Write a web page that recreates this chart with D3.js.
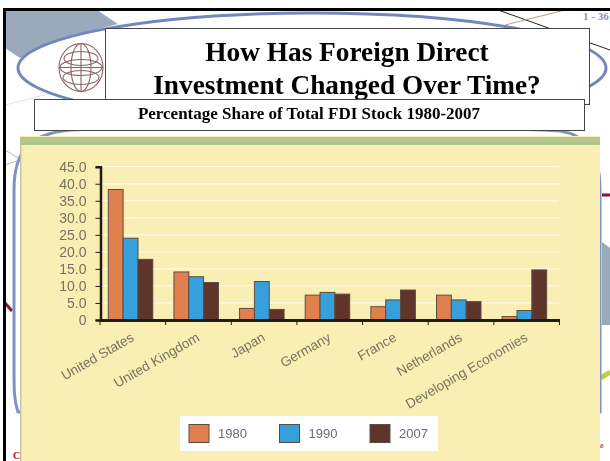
<!DOCTYPE html>
<html><head><meta charset="utf-8">
<style>html,body{margin:0;padding:0;background:#fff;overflow:hidden}svg{display:block}</style>
<script src="https://cdn.jsdelivr.net/npm/d3@7"></script>
</head><body><svg id="c" width="610" height="461"></svg>
<script>
const categories=["United States","United Kingdom","Japan","Germany","France","Netherlands","Developing Economies"];
const years=["1980","1990","2007"];
const v1980=[38.3,14.1,3.4,7.3,3.9,7.3,1.0];
const v1990=[24.0,12.7,11.3,8.1,5.9,5.9,2.8];
const v2007=[17.8,11.0,3.1,7.6,8.8,5.4,14.7];
const yTicks=[0,5,10,15,20,25,30,35,40,45];
const colors=["#e08050","#36a0dc","#5f342c"];
const seriesValues=[v1980,v1990,v2007];

const svg=d3.select("#c");
const sans="'Liberation Sans',Arial,sans-serif", serif="'Liberation Serif','Times New Roman',serif";
const txt="#77735f";
const defs=svg.append("defs");
defs.append("filter").attr("id","soft").append("feGaussianBlur").attr("stdDeviation",0.45);
defs.append("filter").attr("id","softer").append("feGaussianBlur").attr("stdDeviation",0.3);

// slide backdrop
const bg=svg.append("g");
bg.append("path").attr("d","M5,10L97,10L118,24L55,40L20,58L5,48Z").attr("fill","#9aa9bb");
bg.append("path").attr("d","M602,242L610,248L610,325L602,325Z").attr("fill","#9aa9bb");
bg.append("path").attr("d","M5,105L60,91").attr("stroke","#dfe5ea").attr("fill","none");
bg.append("path").attr("d","M5,150L20,159M5,165L20,160").attr("stroke","#b8bcc0").attr("fill","none");
bg.append("path").attr("d","M498,10L610,50").attr("stroke","#222").attr("fill","none");
bg.append("path").attr("d","M505,25L565,10").attr("stroke","#b0a080").attr("fill","none");
bg.append("path").attr("d","M602,195L610,195").attr("stroke","#8a1538").attr("stroke-width",3);
bg.append("path").attr("d","M5,303L12,311").attr("stroke","#8a1538").attr("stroke-width",3);
bg.append("path").attr("d","M601,378L610,372").attr("stroke","#c0cf40").attr("stroke-width",5);
bg.append("ellipse").attr("cx",312).attr("cy",68).attr("rx",294).attr("ry",55).attr("fill","#fff").attr("stroke","#7387bd").attr("stroke-width",3);
bg.append("path").attr("d","M14,190C14,150 30,134 70,130C200,125 450,125 560,131C585,135 600,150 600,190L600,412L18,412C14,400 14,390 14,370Z").attr("fill","#fff").attr("stroke","#7f92c6").attr("stroke-width",3);
svg.append("text").attr("x",13).attr("y",459).attr("font-family",serif).attr("font-weight","bold").attr("font-size",10).attr("fill","#a01010").text("C");

// panel
svg.append("rect").attr("x",20).attr("y",136).attr("width",580).attr("height",325).attr("fill","#f9eeb4");
svg.append("rect").attr("x",20).attr("y",137).attr("width",580).attr("height",8).attr("fill","#b3c78d");
svg.append("rect").attr("x",20).attr("y",145).attr("width",1.5).attr("height",316).attr("fill","#c9c3a6");

// slide frame
svg.append("rect").attr("x",3).attr("y",8).attr("width",607).attr("height",3).attr("fill","#000");
svg.append("rect").attr("x",3).attr("y",8).attr("width",3).attr("height",453).attr("fill","#000");

// title boxes
const head=svg.append("g").attr("filter","url(#softer)");
head.append("rect").attr("x",105.5).attr("y",28.5).attr("width",484).attr("height",76).attr("fill","#fff").attr("stroke","#444");
head.append("text").attr("x",347).attr("y",60.5).attr("text-anchor","middle").attr("font-family",serif).attr("font-weight","bold").attr("font-size",27.3).text("How Has Foreign Direct");
head.append("text").attr("x",347).attr("y",93.5).attr("text-anchor","middle").attr("font-family",serif).attr("font-weight","bold").attr("font-size",27.3).text("Investment Changed Over Time?");
head.append("rect").attr("x",34.5).attr("y",99.5).attr("width",550).attr("height",31).attr("fill","#fff").attr("stroke","#444");
head.append("text").attr("x",309).attr("y",119).attr("text-anchor","middle").attr("font-family",serif).attr("font-weight","bold").attr("font-size",17).text("Percentage Share of Total FDI Stock 1980-2007");
svg.append("text").attr("x",583).attr("y",20).attr("font-family",serif).attr("font-weight","bold").attr("font-size",11).attr("fill","#8093c4").text("1 - 36");
svg.append("text").attr("x",600).attr("y",448).attr("font-family",serif).attr("font-style","italic").attr("font-size",7).text("6");

// globe
const globe=svg.append("g").attr("transform","translate(81,67.5)").attr("fill","none").attr("stroke","#8a6465").attr("stroke-width",1.1).attr("filter","url(#soft)");
globe.append("ellipse").attr("rx",22).attr("ry",24);
globe.append("ellipse").attr("rx",10).attr("ry",24);
globe.append("ellipse").attr("rx",21).attr("ry",8);
globe.append("ellipse").attr("cy",-9).attr("rx",17).attr("ry",7);
globe.append("ellipse").attr("cy",10).attr("rx",18).attr("ry",7);
globe.append("path").attr("d","M-22,0H22M0,-24V24");

// chart
const chart=svg.append("g").attr("filter","url(#soft)");
const x=d3.scaleBand().domain(categories).range([100,559.5]);
const inner=d3.scaleBand().domain(years).range([8.3,52.8]);
const y=d3.scaleLinear().domain([0,45]).range([320,166.7]);

chart.append("g").selectAll("line").data(yTicks.slice(1)).join("line")
  .attr("x1",100).attr("x2",559).attr("y1",d=>y(d)).attr("y2",d=>y(d))
  .attr("stroke","#fffbe8").attr("stroke-width",1.3);

years.forEach((yr,s)=>{
  chart.append("g").selectAll("rect").data(seriesValues[s]).join("rect")
    .attr("x",(d,i)=>x(categories[i])+inner(yr))
    .attr("width",inner.bandwidth())
    .attr("y",d=>y(d))
    .attr("height",d=>y(0)-y(d))
    .attr("fill",colors[s]).attr("stroke","#5c4c42").attr("stroke-width",1);
});

const yAxis=d3.axisLeft(y).tickValues(yTicks).tickSize(5).tickPadding(9).tickFormat(d=>d===0?"0":d3.format(".1f")(d));
const ya=chart.append("g").attr("transform","translate(100.5,0)").call(yAxis);
ya.select(".domain").attr("stroke","#241a16").attr("stroke-width",2.5);
ya.selectAll(".tick line").attr("stroke","#241a16").attr("stroke-width",1);
ya.selectAll("text").attr("font-family",sans).attr("font-size",14).attr("fill",txt);

const xAxis=d3.axisBottom(x).tickValues(categories).tickSize(0).tickFormat(d=>d);
const xa=chart.append("g").attr("transform","translate(0,320)").call(xAxis);
xa.select(".domain").attr("stroke","#241a16").attr("stroke-width",3);
xa.selectAll(".tick text")
  .attr("font-family",sans).attr("font-size",13.5).attr("fill",txt)
  .attr("text-anchor","end").attr("x",0).attr("y",0).attr("dy",0)
  .attr("transform","translate(2,20) rotate(-30)");
const edges=categories.map(c=>x(c)).concat([x.range()[1]]);
chart.append("g").selectAll("line").data(edges).join("line")
  .attr("x1",d=>d).attr("x2",d=>d).attr("y1",320).attr("y2",325)
  .attr("stroke","#241a16").attr("stroke-width",1);

// legend
const lg=chart.append("g");
lg.append("rect").attr("x",180).attr("y",416).attr("width",258).attr("height",35).attr("fill","#fff");
const lx=d3.scalePoint().domain(years).range([189,370]);
years.forEach((yr,s)=>{
  lg.append("rect").attr("x",lx(yr)).attr("y",424.5).attr("width",20).attr("height",18).attr("fill",colors[s]).attr("stroke","#5c4c42").attr("stroke-width",1);
  lg.append("text").attr("x",lx(yr)+29).attr("y",438).attr("font-family",sans).attr("font-size",13).attr("fill","#6d6a6a").text(yr);
});
</script></body></html>
